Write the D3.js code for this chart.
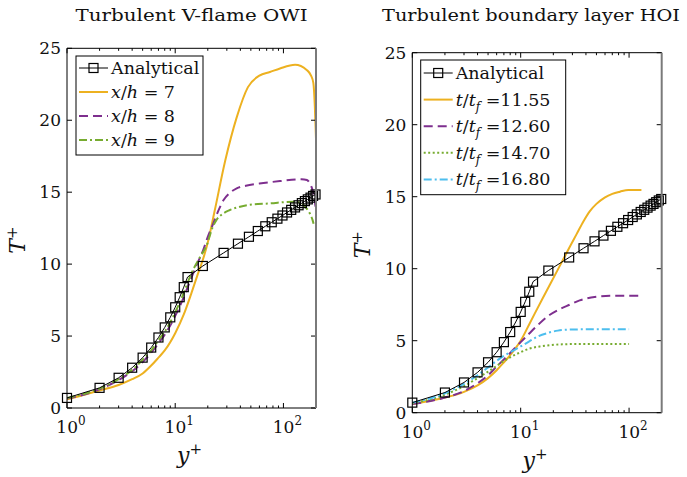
<!DOCTYPE html>
<html>
<head>
<meta charset="utf-8">
<script src="https://cdn.jsdelivr.net/npm/d3@7"></script>
<style>
  body { margin: 0; background: #fff; }
  text { font-family: "DejaVu Serif", serif; fill: #111; }
</style>
</head>
<body>
<svg id="chart"></svg>
<script>
// Analytical law of the wall (markers), same in both panels
const anaX = [1, 2, 3, 4, 5, 6, 7, 8, 9, 10, 11, 12, 13, 18, 28, 38, 48, 58, 68, 78, 88, 98,
  108, 118, 128, 138, 148, 158, 168, 178, 188, 198];
const anaT = [0.7, 1.4, 2.1, 2.8, 3.5, 4.2, 4.9, 5.6, 6.3, 7.0, 7.7, 8.4, 9.1, 9.87, 10.78,
  11.42, 11.9, 12.3, 12.63, 12.91, 13.16, 13.38, 13.59, 13.77, 13.94, 14.09, 14.24, 14.38,
  14.5, 14.62, 14.74, 14.84];

// Left panel: V-flame
const xh7X = [1, 1.5, 2, 3, 4, 5, 6, 7, 8, 10, 12, 14, 16, 18, 20, 23, 29, 37, 47, 60, 75, 93, 128, 164, 180, 189, 195, 200];
const xh7T = [0.6, 0.95, 1.22, 1.6, 2.0, 2.4, 2.95, 3.5, 4.0, 5.2, 6.5, 7.9, 9.2, 10.3, 11.5, 13.6, 17.2, 20.2, 22.3, 23.1, 23.35, 23.6, 23.85, 23.5, 23.1, 22.6, 21.0, 18.7];

const xh8X = [1, 2, 3, 4, 5, 6, 7, 8, 10, 12, 14, 16, 18, 20, 22.5, 25, 28, 32, 37, 45, 60, 93, 147, 165, 176, 185, 192, 198];
const xh8T = [0.65, 1.3, 1.95, 2.55, 3.2, 3.85, 4.5, 5.1, 6.4, 7.7, 9.0, 10.05, 10.9, 11.9, 12.83, 13.7, 14.45, 14.95, 15.27, 15.45, 15.6, 15.77, 15.9, 15.85, 15.6, 15.2, 14.7, 14.0];

const xh9X = [1, 2, 3, 4, 5, 6, 7, 8, 10, 12, 14, 17, 19.5, 22, 24, 27, 32, 38, 46, 75, 124, 145, 158, 170, 176, 186, 190];
const xh9T = [0.7, 1.35, 2.0, 2.65, 3.35, 4.0, 4.7, 5.3, 6.65, 8.0, 9.3, 10.5, 11.3, 12.5, 13.06, 13.45, 13.76, 13.95, 14.1, 14.22, 14.34, 14.25, 14.0, 13.7, 13.5, 13.06, 12.8];

// Right panel: boundary layer
const t1155X = [1, 2, 3, 4, 5, 6, 7, 8, 9, 10, 12.1, 16.1, 21.4, 24.7, 28, 32.8, 38, 43.5, 50, 60, 70, 82.5, 98.5, 115, 130];
const t1155T = [0.6, 1.05, 1.45, 1.9, 2.4, 2.95, 3.5, 4.0, 4.5, 5.0, 6.2, 8.0, 9.76, 10.65, 11.44, 12.4, 13.3, 14.0, 14.5, 14.96, 15.2, 15.35, 15.47, 15.47, 15.47];

const t1260X = [1, 2, 3, 4, 5, 6, 7, 8, 9, 10, 12, 14, 18.6, 23, 28.4, 35, 40.6, 50, 66.6, 90, 125];
const t1260T = [0.6, 1.05, 1.5, 2.05, 2.6, 3.2, 3.7, 4.15, 4.55, 4.9, 5.5, 6.0, 6.8, 7.2, 7.5, 7.8, 7.94, 8.05, 8.12, 8.12, 8.12];

const t1470X = [1, 2, 3, 4, 5, 6, 7, 8, 10, 12, 15, 19, 25, 33, 50, 100];
const t1470T = [0.65, 1.25, 1.85, 2.4, 2.85, 3.25, 3.6, 3.85, 4.2, 4.45, 4.6, 4.7, 4.75, 4.77, 4.77, 4.77];

const t1680X = [1, 2, 3, 4, 5, 6, 7, 8, 10, 12, 14, 18, 22, 28, 38, 60, 100];
const t1680T = [0.7, 1.35, 2.0, 2.6, 3.15, 3.6, 3.95, 4.2, 4.6, 4.95, 5.25, 5.55, 5.7, 5.77, 5.79, 5.8, 5.8];

const yTicks = [0, 5, 10, 15, 20, 25];
const xMajor = [1, 10, 100];
const xMinor = [2, 3, 4, 5, 6, 7, 8, 9, 20, 30, 40, 50, 60, 70, 80, 90];

const orange = "#EDB120", purple = "#7E2F8E", green = "#77AC30", cyan = "#4DBEEE";

const svg = d3.select("#chart").attr("width", 687).attr("height", 477);

function drawPanel(p) {
  const x = d3.scaleLog().domain([1, 200]).range([p.x0, p.x1]);
  const y = d3.scaleLinear().domain([0, 25]).range([p.y1, p.y0]);
  const g = svg.append("g");

  const clipId = "clip-" + p.id;
  g.append("clipPath").attr("id", clipId)
    .append("rect")
    .attr("x", p.x0).attr("y", p.y0)
    .attr("width", p.x1 - p.x0).attr("height", p.y1 - p.y0);

  // title
  g.append("text")
    .attr("x", (p.x0 + p.x1) / 2 + p.titleDx)
    .attr("y", 21)
    .attr("text-anchor", "middle")
    .attr("font-size", 17)
    .attr("textLength", p.titleLen)
    .attr("lengthAdjust", "spacingAndGlyphs")
    .text(p.title);

  // curves
  const line = d3.line()
    .x(d => x(d[0]))
    .y(d => y(d[1]))
    .curve(d3.curveMonotoneX);

  const plot = g.append("g").attr("clip-path", "url(#" + clipId + ")");
  p.series.forEach(s => {
    plot.append("path")
      .datum(d3.zip(s.xs, s.ts))
      .attr("fill", "none")
      .attr("stroke", s.color)
      .attr("stroke-width", 2)
      .attr("stroke-dasharray", s.dash)
      .attr("d", line);
  });

  // analytical
  const anaLine = d3.line().x(d => x(d[0])).y(d => y(d[1]));
  plot.append("path")
    .datum(d3.zip(anaX, anaT))
    .attr("fill", "none")
    .attr("stroke", "#000")
    .attr("stroke-width", 1)
    .attr("d", anaLine);
  g.selectAll(".mk-" + p.id)
    .data(d3.zip(anaX, anaT))
    .enter().append("rect")
    .attr("x", d => x(d[0]) - 4.5)
    .attr("y", d => y(d[1]) - 4.5)
    .attr("width", 9).attr("height", 9)
    .attr("fill", "none")
    .attr("stroke", "#000")
    .attr("stroke-width", 1.2);

  // ticks (inward, MATLAB style)
  const tk = g.append("g").attr("stroke", "#000").attr("stroke-width", 1);
  xMajor.forEach(v => {
    tk.append("line").attr("x1", x(v)).attr("x2", x(v)).attr("y1", p.y1).attr("y2", p.y1 - 5);
    tk.append("line").attr("x1", x(v)).attr("x2", x(v)).attr("y1", p.y0).attr("y2", p.y0 + 5);
  });
  xMinor.forEach(v => {
    tk.append("line").attr("x1", x(v)).attr("x2", x(v)).attr("y1", p.y1).attr("y2", p.y1 - 2.5);
    tk.append("line").attr("x1", x(v)).attr("x2", x(v)).attr("y1", p.y0).attr("y2", p.y0 + 2.5);
  });
  yTicks.forEach(v => {
    tk.append("line").attr("x1", p.x0).attr("x2", p.x0 + 5).attr("y1", y(v)).attr("y2", y(v));
    tk.append("line").attr("x1", p.x1).attr("x2", p.x1 - 5).attr("y1", y(v)).attr("y2", y(v));
  });

  // box
  g.append("path")
    .attr("d", `M${p.x1},${p.y0}H${p.x0}V${p.y1}H${p.x1}`)
    .attr("fill", "none").attr("stroke", "#000").attr("stroke-width", 1);
  g.append("line")
    .attr("x1", p.x1).attr("x2", p.x1).attr("y1", p.y0).attr("y2", p.y1)
    .attr("stroke", "#7a7a7a").attr("stroke-width", 2);

  // tick labels
  yTicks.forEach(v => {
    g.append("text")
      .attr("x", p.x0 - 6).attr("y", y(v) + 6)
      .attr("text-anchor", "end")
      .attr("font-size", 17)
      .text(v);
  });
  xMajor.forEach((v, i) => {
    const t = g.append("text")
      .attr("x", x(v) + 4).attr("y", p.y1 + 25)
      .attr("text-anchor", "middle")
      .attr("font-size", 17);
    t.append("tspan").text("10");
    t.append("tspan").attr("dy", -8).attr("font-size", 12).text(i);
  });

  // axis labels
  const xl = g.append("text")
    .attr("x", (p.x0 + p.x1) / 2 - 2).attr("y", p.y1 + 55)
    .attr("text-anchor", "middle")
    .attr("font-size", 22);
  xl.append("tspan").attr("font-style", "italic").text("y");
  xl.append("tspan").attr("dy", -9).attr("font-size", 15).text("+");

  const yl = g.append("text")
    .attr("transform", `translate(${p.x0 - 42},${(p.y0 + p.y1) / 2 + 12}) rotate(-90)`)
    .attr("text-anchor", "middle")
    .attr("font-size", 22);
  yl.append("tspan").attr("font-style", "italic").text("T");
  yl.append("tspan").attr("dy", -8).attr("font-size", 15).text("+");

  // legend
  const L = p.legend;
  g.append("rect")
    .attr("x", L.x).attr("y", L.y)
    .attr("width", L.w).attr("height", L.h)
    .attr("fill", "#fff").attr("stroke", "#000").attr("stroke-width", 1);
  L.items.forEach((it, i) => {
    const cy = L.y + L.first + i * L.step;
    g.append("line")
      .attr("x1", L.x + 3).attr("x2", L.x + 32)
      .attr("y1", cy).attr("y2", cy)
      .attr("stroke", it.color)
      .attr("stroke-width", it.marker ? 1 : 2)
      .attr("stroke-dasharray", it.dash);
    if (it.marker) {
      g.append("rect")
        .attr("x", L.x + 17.5 - 4.5).attr("y", cy - 4.5)
        .attr("width", 9).attr("height", 9)
        .attr("fill", "none").attr("stroke", "#000").attr("stroke-width", 1.2);
    }
    const t = g.append("text")
      .attr("x", L.x + 35).attr("y", cy + 6)
      .attr("font-size", 17.5);
    it.parts.forEach(pt => {
      const s = t.append("tspan").text(pt.t);
      if (pt.i) s.attr("font-style", "italic");
      if (pt.sub) s.attr("font-size", 12).attr("dy", 5);
      if (pt.up) s.attr("dy", -5);
    });
  });
}

const xhLabel = n => [{t: "x", i: true}, {t: "/"}, {t: "h", i: true}, {t: " = " + n}];
const ttLabel = n => [{t: "t", i: true}, {t: "/"}, {t: "t", i: true}, {t: "f", i: true, sub: true}, {t: " =" + n, up: true}];

drawPanel({
  id: "left", x0: 67, x1: 316, y0: 48.3, y1: 408,
  title: "Turbulent V-flame OWI", titleDx: 0, titleLen: 232,
  series: [
    {xs: xh7X, ts: xh7T, color: orange, dash: null},
    {xs: xh8X, ts: xh8T, color: purple, dash: "9,5"},
    {xs: xh9X, ts: xh9T, color: green, dash: "8,3,2,3"}
  ],
  legend: {
    x: 76, y: 56, w: 127, h: 99, first: 12, step: 24,
    items: [
      {color: "#000", marker: true, dash: null, parts: [{t: "Analytical"}]},
      {color: orange, dash: null, parts: xhLabel(7)},
      {color: purple, dash: "9,5", parts: xhLabel(8)},
      {color: green, dash: "8,3,2,3", parts: xhLabel(9)}
    ]
  }
});

drawPanel({
  id: "right", x0: 412.3, x1: 661.7, y0: 52.7, y1: 412.7,
  title: "Turbulent boundary layer HOI", titleDx: -6, titleLen: 298,
  series: [
    {xs: t1155X, ts: t1155T, color: orange, dash: null},
    {xs: t1260X, ts: t1260T, color: purple, dash: "9,5"},
    {xs: t1470X, ts: t1470T, color: green, dash: "2,2.5"},
    {xs: t1680X, ts: t1680T, color: cyan, dash: "8,3,2,3"}
  ],
  legend: {
    x: 420.7, y: 60, w: 145, h: 134.7, first: 13, step: 26.6,
    items: [
      {color: "#000", marker: true, dash: null, parts: [{t: "Analytical"}]},
      {color: orange, dash: null, parts: ttLabel("11.55")},
      {color: purple, dash: "9,5", parts: ttLabel("12.60")},
      {color: green, dash: "2,2.5", parts: ttLabel("14.70")},
      {color: cyan, dash: "8,3,2,3", parts: ttLabel("16.80")}
    ]
  }
});
</script>
</body>
</html>
